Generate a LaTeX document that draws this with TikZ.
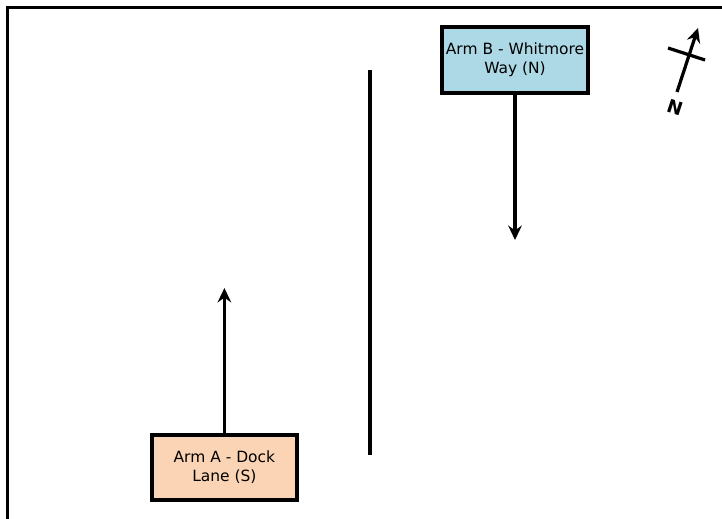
\documentclass[tikz,border=0pt]{standalone}
\usepackage{fontspec}
\setmainfont{DejaVu Sans}
\usetikzlibrary{arrows.meta}

\definecolor{armAfill}{RGB}{250,212,180}
\definecolor{armBfill}{RGB}{173,216,230}

\begin{document}
\begin{tikzpicture}[>={Stealth[length=3.6mm,width=3.4mm,inset=1.2mm]},line width=2.3pt]
    \useasboundingbox (0,0) rectangle (18.05,12.95);

    % frame (only left and top edges show)
    \draw (0.19,-1) -- (0.19,12.76) -- (19,12.76);

    \node[draw,fill=armBfill,minimum width=3.65cm,minimum height=1.65cm,inner sep=0pt,align=center,font=\fontsize{11}{13.5}\selectfont] (armB) at (12.875,11.45) {Arm B - Whitmore\\Way (N)};
    \node[draw,fill=armAfill,minimum width=3.625cm,minimum height=1.625cm,inner sep=0pt,align=center,font=\fontsize{11}{13.5}\selectfont] (armA) at (5.61,1.26) {Arm A - Dock\\Lane (S)};

    \coordinate (tipA) at (5.61,5.75);
    \coordinate (tipB) at (12.875,6.95);
    \draw[->] (armA) -- (tipA);
    \draw[->] (armB) -- (tipB);

    % centre line
    \coordinate (ctop) at (9.25,11.2);
    \coordinate (cbot) at (9.25,1.575);
    \draw (ctop) -- (cbot);

    % north arrow
    \coordinate (ntail) at (16.925,10.65);
    \coordinate (nhead) at (17.45,12.25);
    \coordinate (xl) at (16.7,11.75);
    \coordinate (xr) at (17.625,11.45);
    \draw[->] (ntail) -- (nhead);
    \draw (xl) -- (xr);
    \node[rotate=-18,font=\fontsize{13}{15}\selectfont\bfseries] (nlab) at (16.875,10.27) {N};
\end{tikzpicture}
\end{document}
